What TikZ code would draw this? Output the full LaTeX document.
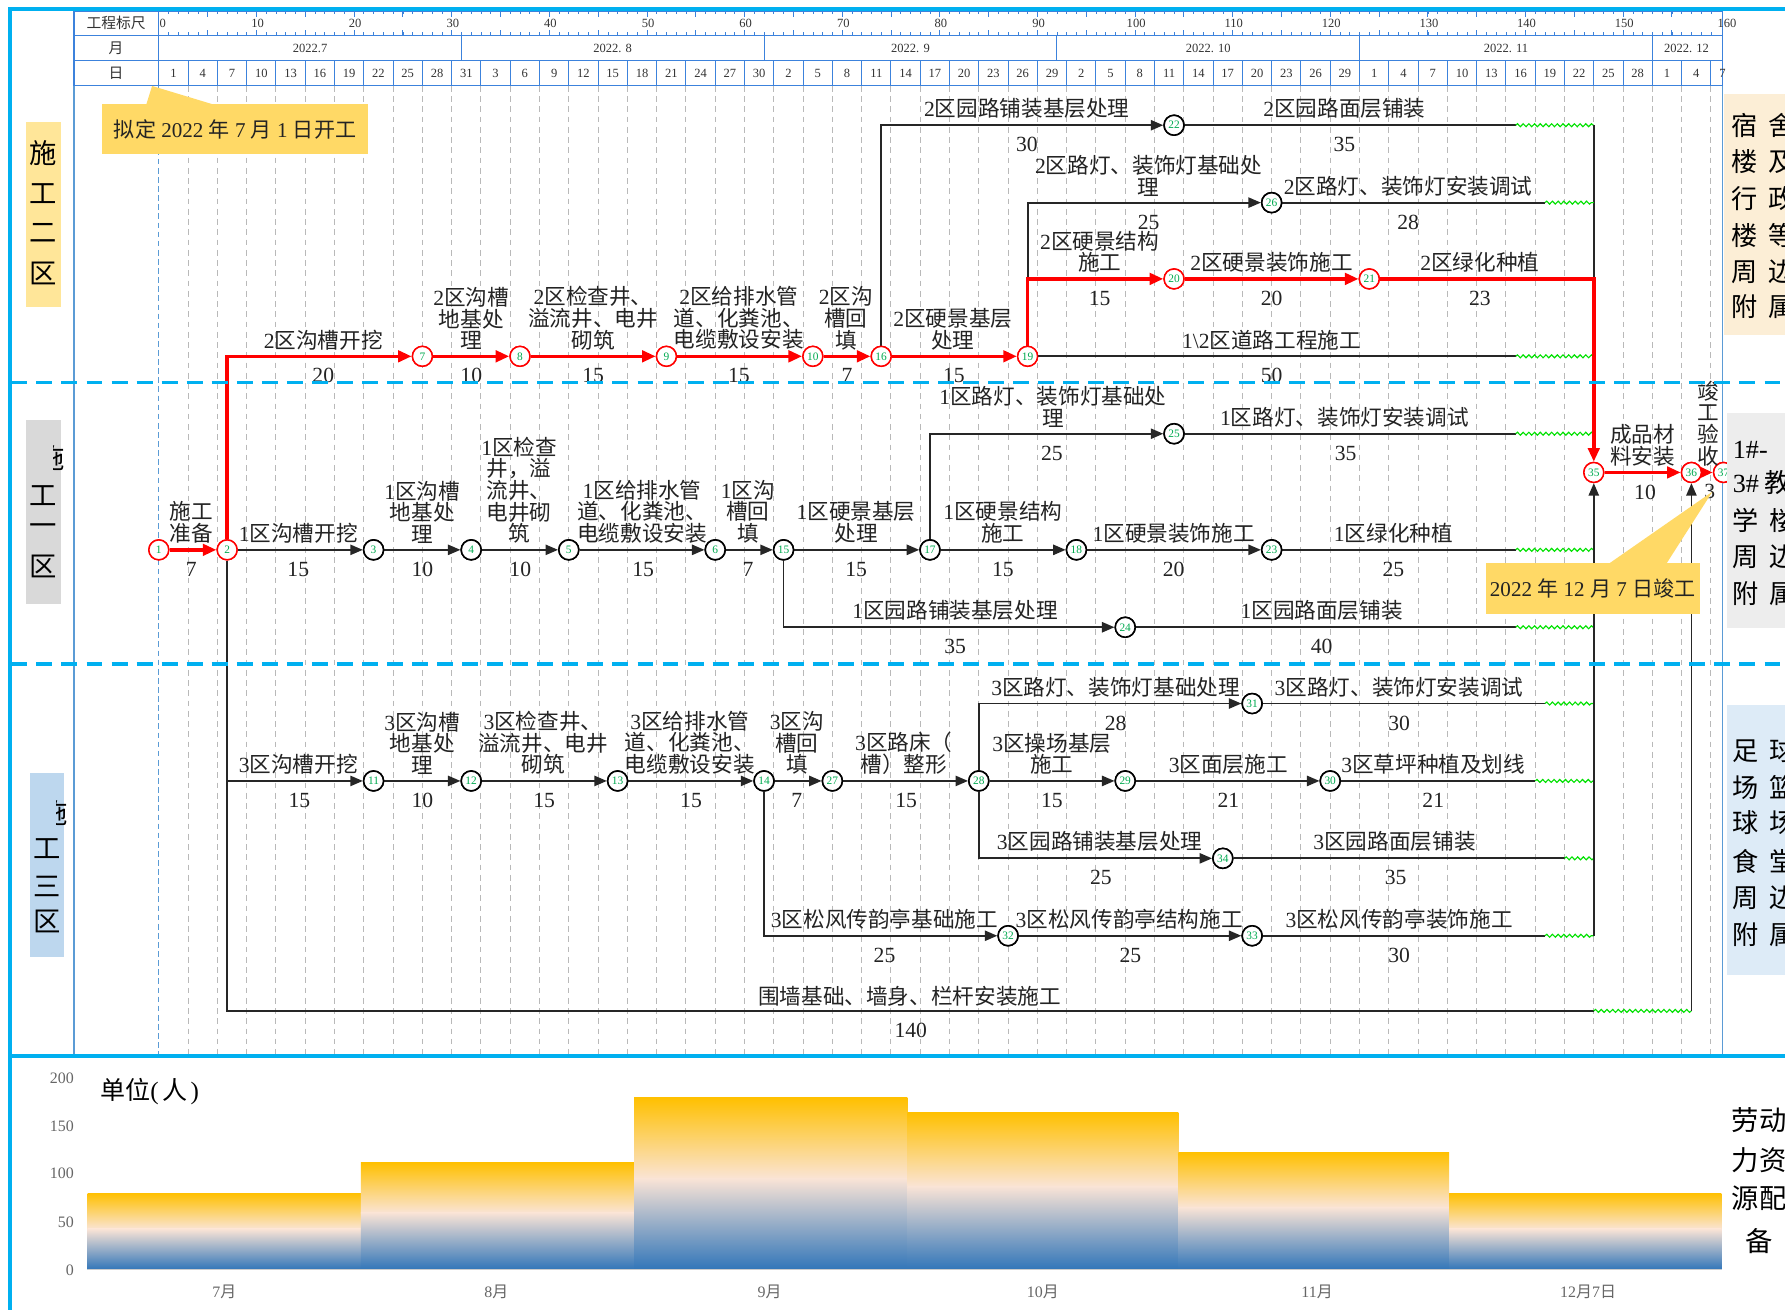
\documentclass[tikz,border=0pt]{standalone}
\usepackage{fontspec}
\setmainfont{Liberation Serif}
\newfontfamily\cjkf{Noto Sans CJK SC}
\usetikzlibrary{arrows.meta,decorations.pathmorphing}
\XeTeXinterchartokenstate=1
\newXeTeXintercharclass\cjkcls
\makeatletter
\count@="3000 \loop\ifnum\count@<"3040 \XeTeXcharclass\count@=\cjkcls\advance\count@\@ne\repeat
\count@="4E00 \loop\ifnum\count@<"A000 \XeTeXcharclass\count@=\cjkcls\advance\count@\@ne\repeat
\count@="FF00 \loop\ifnum\count@<"FFF0 \XeTeXcharclass\count@=\cjkcls\advance\count@\@ne\repeat
\makeatother
\XeTeXinterchartoks 0 \cjkcls = {\begingroup\cjkf}
\XeTeXinterchartoks 4095 \cjkcls = {\begingroup\cjkf}
\XeTeXinterchartoks \cjkcls 0 = {\endgroup}
\XeTeXinterchartoks \cjkcls 4095 = {\endgroup}

\definecolor{framec}{RGB}{0,176,240}
\definecolor{lblue}{RGB}{91,155,213}
\definecolor{hblue}{RGB}{60,130,220}
\definecolor{gridc}{RGB}{185,185,185}
\definecolor{critc}{RGB}{255,0,0}
\definecolor{numg}{RGB}{0,170,80}
\definecolor{wavec}{RGB}{0,225,0}
\definecolor{callc}{RGB}{255,217,102}
\definecolor{txtc}{RGB}{35,35,35}
\definecolor{barY}{RGB}{255,192,0}
\definecolor{barM}{RGB}{250,228,214}
\definecolor{barB}{RGB}{50,118,185}
\definecolor{boxYL}{RGB}{255,230,153}
\definecolor{boxGL}{RGB}{217,217,217}
\definecolor{boxBL}{RGB}{189,215,238}
\definecolor{boxYR}{RGB}{252,238,214}
\definecolor{boxGR}{RGB}{237,237,237}
\definecolor{boxBR}{RGB}{221,235,247}

\newcommand\dayx[1]{139.5+8.575*#1}
\newcounter{lc}
\newcommand\actlab[3]{\stepcounter{lc}\node[lab] (lab\thelc) at (#1,#2-5.5) {#3};}
\newcommand\actdur[3]{\stepcounter{lc}\node[dur] (dur\thelc) at (#1,#2+10.5) {#3};}
\newcommand\labbar[3]{%
  \shade[top color=barY,bottom color=barM] (#1,#3) rectangle (#2,{#3+0.47*(1115-#3)+0.5});
  \shade[top color=barM,bottom color=barB] (#1,{#3+0.47*(1115-#3)}) rectangle (#2,1115);}

\tikzset{
  ev/.style={circle,draw=black,line width=1.4pt,fill=white,minimum size=17.5pt,inner sep=0pt,font=\fontsize{10}{10}\selectfont,text=numg},
  evc/.style={ev,draw=critc,line width=1.3pt},
  act/.style={draw=black!85,line width=1.6pt},
  acta/.style={act,-{Triangle[length=11pt,width=9pt]}},
  cpl/.style={draw=critc,line width=3pt},
  cpa/.style={cpl,-{Triangle[length=12pt,width=10pt]}},
  wavy/.style={draw=wavec,line width=1pt,decorate,decoration={snake,amplitude=1.3pt,segment length=5pt}},
  lab/.style={font=\fontsize{19}{19}\selectfont,text=txtc,align=center,inner sep=0pt,anchor=south},
  dur/.style={font=\fontsize{19}{19}\selectfont,text=txtc,inner sep=0pt,anchor=north},
  gdash/.style={draw=gridc,line width=0.8pt,dash pattern=on 5pt off 4pt},
  hline/.style={draw=hblue,line width=0.9pt},
  hdr/.style={font=\fontsize{11}{12}\selectfont,text=black!80,inner sep=0pt},
  zonech/.style={font=\fontsize{24}{24}\selectfont,text=black,inner sep=0pt},
  sidech/.style={font=\fontsize{23}{23}\selectfont,text=black,inner sep=0pt,anchor=west},
  axl/.style={font=\fontsize{14}{14}\selectfont,text=black!60,inner sep=0pt},
  sep/.style={draw=framec,line width=3.5pt,dash pattern=on 14pt off 8pt},
}

\begin{document}
\begin{tikzpicture}[x=1pt,y=-1pt]
\useasboundingbox (0,0) rectangle (1568,1150);
\fill[white] (0,0) rectangle (1568,1150);

% ---------------- grid
\foreach \k in {1,...,53} \draw[gdash] ({139.5+25.725*\k},75.5) -- ({139.5+25.725*\k},928);
\draw[lblue,line width=0.9pt,dash pattern=on 5pt off 3pt] (139.5,75.5) -- (139.5,928);
\draw[lblue,line width=0.9pt] (65,10) -- (65,928);
\draw[lblue,line width=0.9pt] (1513,10) -- (1513,928);

% ---------------- header
\draw[hline] (65,10) rectangle (1513,75.5);
\draw[hline] (65,31) -- (1513,31) (65,53.5) -- (1513,53.5) (139.5,10) -- (139.5,75.5);
\foreach \d in {31,62,92,123,153} \draw[hline] ({\dayx{\d}},31) -- ({\dayx{\d}},53.5);
\foreach \k in {1,...,53} \draw[hline] ({139.5+25.725*\k},53.5) -- ({139.5+25.725*\k},75.5);
\foreach \d in {1,...,159} \draw[hblue,line width=0.6pt] ({\dayx{\d}},10) -- ++(0,2.5) ({\dayx{\d}},31) -- ++(0,-2.5);
\foreach \d in {5,10,...,155} \draw[hblue,line width=0.7pt] ({\dayx{\d}},10) -- ++(0,4.5) ({\dayx{\d}},31) -- ++(0,-4.5);
\node[font=\fontsize{13}{13}\selectfont,inner sep=0pt,text=black!80] (h1) at (102,20.5) {工程标尺};
\node[font=\fontsize{13}{13}\selectfont,inner sep=0pt,text=black!80] (h2) at (102,42.5) {月};
\node[font=\fontsize{13}{13}\selectfont,inner sep=0pt,text=black!80] (h3) at (102,64.75) {日};
\node[hdr] (r0) at (143,20.5) {0};
\foreach \d in {10,20,...,150} \node[hdr] (r\d) at ({\dayx{\d}+1},20.5) {\d};
\node[hdr] (r160) at (1517,20.5) {160};
\node[hdr] (m7) at (272.4,42.5) {2022.7};
\node[hdr] (m8) at (538.2,42.5) {2022. 8};
\node[hdr] (m9) at (799.8,42.5) {2022. 9};
\node[hdr] (m10) at (1061.3,42.5) {2022. 10};
\node[hdr] (m11) at (1322.9,42.5) {2022. 11};
\node[hdr] (m12) at (1481.5,42.5) {2022. 12};
\foreach \t [count=\i from 0] in {1,4,7,10,13,16,19,22,25,28,31,3,6,9,12,15,18,21,24,27,30,2,5,8,11,14,17,20,23,26,29,2,5,8,11,14,17,20,23,26,29,1,4,7,10,13,16,19,22,25,28,1,4}
  \node[hdr] (dd\i) at ({139.5+25.725*\i+12.86},64.75) {\t};
\node[hdr] (ddlast) at (1513,64.75) {7};

% ---------------- events
\node[evc] (n1) at ({\dayx{0}},483) {1};
\node[evc] (n2) at ({\dayx{7}},483) {2};
\node[ev] (n3) at ({\dayx{22}},483) {3};
\node[ev] (n4) at ({\dayx{32}},483) {4};
\node[ev] (n5) at ({\dayx{42}},483) {5};
\node[ev] (n6) at ({\dayx{57}},483) {6};
\node[ev] (n15) at ({\dayx{64}},483) {15};
\node[ev] (n17) at ({\dayx{79}},483) {17};
\node[ev] (n18) at ({\dayx{94}},483) {18};
\node[ev] (n23) at ({\dayx{114}},483) {23};
\node[ev] (n25) at ({\dayx{104}},381) {25};
\node[ev] (n24) at ({\dayx{99}},551) {24};
\node[evc] (n7) at ({\dayx{27}},313) {7};
\node[evc] (n8) at ({\dayx{37}},313) {8};
\node[evc] (n9) at ({\dayx{52}},313) {9};
\node[evc] (n10) at ({\dayx{67}},313) {10};
\node[evc] (n16) at ({\dayx{74}},313) {16};
\node[evc] (n19) at ({\dayx{89}},313) {19};
\node[evc] (n20) at ({\dayx{104}},245) {20};
\node[evc] (n21) at ({\dayx{124}},245) {21};
\node[ev] (n22) at ({\dayx{104}},110) {22};
\node[ev] (n26) at ({\dayx{114}},178) {26};
\node[evc] (n35) at ({\dayx{147}},415) {35};
\node[evc] (n36) at ({\dayx{157}},415) {36};
\node[evc] (n37) at (1514,415) {37};
\node[ev] (n11) at ({\dayx{22}},686) {11};
\node[ev] (n12) at ({\dayx{32}},686) {12};
\node[ev] (n13) at ({\dayx{47}},686) {13};
\node[ev] (n14) at ({\dayx{62}},686) {14};
\node[ev] (n27) at ({\dayx{69}},686) {27};
\node[ev] (n28) at ({\dayx{84}},686) {28};
\node[ev] (n29) at ({\dayx{99}},686) {29};
\node[ev] (n30) at ({\dayx{120}},686) {30};
\node[ev] (n31) at ({\dayx{112}},618) {31};
\node[ev] (n34) at ({\dayx{109}},754) {34};
\node[ev] (n32) at ({\dayx{87}},822) {32};
\node[ev] (n33) at ({\dayx{112}},822) {33};

% free-float end points
\coordinate (w22) at ({\dayx{139}},110);  \coordinate (k22) at (n35 |- n22);
\coordinate (k21) at (n35 |- n21);
\coordinate (w26) at ({\dayx{142}},178);  \coordinate (k26) at (n35 |- n26);
\coordinate (w19) at ({\dayx{139}},313);  \coordinate (k19) at (n35 |- n19);
\coordinate (w25) at ({\dayx{139}},381);  \coordinate (k25) at (n35 |- n25);
\coordinate (w23) at ({\dayx{139}},483);  \coordinate (k23) at (n35 |- n23);
\coordinate (w24) at ({\dayx{139}},551);  \coordinate (k24) at (n35 |- n24);
\coordinate (w31) at ({\dayx{142}},618);  \coordinate (k31) at (n35 |- n31);
\coordinate (w30) at ({\dayx{141}},686);  \coordinate (k30) at (n35 |- n30);
\coordinate (w34) at ({\dayx{144}},754);  \coordinate (k34) at (n35 |- n34);
\coordinate (w33) at ({\dayx{142}},822);  \coordinate (k33) at (n35 |- n33);
\coordinate (w2) at ({\dayx{147}},888);   \coordinate (k2) at (n36 |- w2);

% ---------------- black activities
\draw[acta] (n2) -- (n3);
\draw[acta] (n3) -- (n4);
\draw[acta] (n4) -- (n5);
\draw[acta] (n5) -- (n6);
\draw[acta] (n6) -- (n15);
\draw[acta] (n15) -- (n17);
\draw[acta] (n17) -- (n18);
\draw[acta] (n18) -- (n23);
\draw[act] (n23) -- (w23); \draw[wavy] (w23) -- (k23);
\draw[acta] (n17.north) |- (n25);
\draw[act] (n25) -- (w25); \draw[wavy] (w25) -- (k25);
\draw[acta] (n15.south) |- (n24);
\draw[act] (n24) -- (w24); \draw[wavy] (w24) -- (k24);
\draw[acta] (n16.north) |- (n22);
\draw[act] (n22) -- (w22); \draw[wavy] (w22) -- (k22);
\draw[act] (k22) -- (k21);
\draw[acta] (n19.north) |- (n26);
\draw[act] (n26) -- (w26); \draw[wavy] (w26) -- (k26);
\draw[act] (n19) -- (w19); \draw[wavy] (w19) -- (k19);
\draw[act] (n2.south) |- (w2); \draw[wavy] (w2) -- (k2);
\draw[acta] (k2) -- (n36);
\draw[acta] (n2.south |- n11) -- (n11);
\draw[acta] (n11) -- (n12);
\draw[acta] (n12) -- (n13);
\draw[acta] (n13) -- (n14);
\draw[acta] (n14) -- (n27);
\draw[acta] (n27) -- (n28);
\draw[acta] (n28) -- (n29);
\draw[acta] (n29) -- (n30);
\draw[act] (n30) -- (w30); \draw[wavy] (w30) -- (k30);
\draw[acta] (n28.north) |- (n31);
\draw[act] (n31) -- (w31); \draw[wavy] (w31) -- (k31);
\draw[acta] (n28.south) |- (n34);
\draw[act] (n34) -- (w34); \draw[wavy] (w34) -- (k34);
\draw[acta] (n14.south) |- (n32);
\draw[acta] (n32) -- (n33);
\draw[act] (n33) -- (w33); \draw[wavy] (w33) -- (k33);
\draw[acta] (k33) -- (n35);

% ---------------- critical path
\draw[cpa] (n1) -- (n2);
\draw[cpa] (n2.north) |- (n7);
\draw[cpa] (n7) -- (n8);
\draw[cpa] (n8) -- (n9);
\draw[cpa] (n9) -- (n10);
\draw[cpa] (n10) -- (n16);
\draw[cpa] (n16) -- (n19);
\draw[cpa] (n19.north) |- (n20);
\draw[cpa] (n20) -- (n21);
\draw[cpa] (n21) -| (n35);
\draw[cpa] (n35) -- (n36);
\draw[cpa] (n36) -- (n37);

% redraw event circles on top
\foreach \n/\c in {1/evc,2/evc,3/ev,4/ev,5/ev,6/ev,15/ev,17/ev,18/ev,23/ev,25/ev,24/ev,7/evc,8/evc,9/evc,10/evc,16/evc,19/evc,20/evc,21/evc,22/ev,26/ev,35/evc,36/evc,37/evc,11/ev,12/ev,13/ev,14/ev,27/ev,28/ev,29/ev,30/ev,31/ev,34/ev,32/ev,33/ev}
  \node[\c] (t\n) at (n\n) {\n};

\draw[gray,line width=0.8pt] (n37.north east) -- (1531,401);
\filldraw[fill={rgb,255:red,235;green,100;blue,100},draw=red!60!black,line width=0.5pt] (1529,404) -- (1535,396) -- (1547,398) -- (1541,406) -- cycle;

% ---------------- labels zone 2
\actlab{284}{313}{2区沟槽开挖} \actdur{284}{313}{20}
\actlab{414}{313}{2区沟槽\\地基处\\理} \actdur{414}{313}{10}
\actlab{521}{313}{2区检查井、\\溢流井、电井\\砌筑} \actdur{521}{313}{15}
\actlab{649}{313}{2区给排水管\\道、化粪池、\\电缆敷设安装} \actdur{649}{313}{15}
\actlab{743}{313}{2区沟\\槽回\\填} \actdur{744}{313}{7}
\actlab{837}{313}{2区硬景基层\\处理} \actdur{838}{313}{15}
\actlab{1117}{313}{1\textbackslash 2区道路工程施工} \actdur{1117}{313}{50}
\actlab{966}{245}{2区硬景结构\\施工} \actdur{966}{245}{15}
\actlab{1117}{245}{2区硬景装饰施工} \actdur{1117}{245}{20}
\actlab{1300}{245}{2区绿化种植} \actdur{1300}{245}{23}
\actlab{1009}{178}{2区路灯、装饰灯基础处\\理} \actdur{1009}{178}{25}
\actlab{1237}{178}{2区路灯、装饰灯安装调试} \actdur{1237}{178}{28}
\actlab{902}{110}{2区园路铺装基层处理} \actdur{902}{110}{30}
\actlab{1181}{110}{2区园路面层铺装} \actdur{1181}{110}{35}

% ---------------- labels zone 1
\actlab{168}{483}{施工\\准备} \actdur{168}{483}{7}
\actlab{262}{483}{1区沟槽开挖} \actdur{262}{483}{15}
\actlab{371}{483}{1区沟槽\\地基处\\理} \actdur{371}{483}{10}
\actlab{456}{483}{1区检查\\井，溢\\流井、\\电井砌\\筑} \actdur{457}{483}{10}
\actlab{564}{483}{1区给排水管\\道、化粪池、\\电缆敷设安装} \actdur{565}{483}{15}
\actlab{657}{483}{1区沟\\槽回\\填} \actdur{657}{483}{7}
\actlab{752}{483}{1区硬景基层\\处理} \actdur{752}{483}{15}
\actlab{881}{483}{1区硬景结构\\施工} \actdur{881}{483}{15}
\actlab{1031}{483}{1区硬景装饰施工} \actdur{1031}{483}{20}
\actlab{1224}{483}{1区绿化种植} \actdur{1224}{483}{25}
\actlab{925}{381}{1区路灯、装饰灯基础处\\理} \actdur{924}{381}{25}
\actlab{1181}{381}{1区路灯、装饰灯安装调试} \actdur{1182}{381}{35}
\actlab{839}{551}{1区园路铺装基层处理} \actdur{839}{551}{35}
\actlab{1161}{551}{1区园路面层铺装} \actdur{1161}{551}{40}
\actlab{1443}{415}{成品材\\料安装} \actdur{1445}{415}{10}
\actlab{1501}{415}{竣\\工\\验\\收} \actdur{1502}{415}{3}

% ---------------- labels zone 3
\actlab{262}{686}{3区沟槽开挖} \actdur{263}{686}{15}
\actlab{371}{686}{3区沟槽\\地基处\\理} \actdur{371}{686}{10}
\actlab{477}{686}{3区检查井、\\溢流井、电井\\砌筑} \actdur{478}{686}{15}
\actlab{606}{686}{3区给排水管\\道、化粪池、\\电缆敷设安装} \actdur{607}{686}{15}
\actlab{700}{686}{3区沟\\槽回\\填} \actdur{700}{686}{7}
\actlab{794}{686}{3区路床（\\槽）整形} \actdur{796}{686}{15}
\actlab{924}{686}{3区操场基层\\施工} \actdur{924}{686}{15}
\actlab{1079}{686}{3区面层施工} \actdur{1079}{686}{21}
\actlab{1259}{686}{3区草坪种植及划线} \actdur{1259}{686}{21}
\actlab{980}{618}{3区路灯、装饰灯基础处理} \actdur{980}{618}{28}
\actlab{1229}{618}{3区路灯、装饰灯安装调试} \actdur{1229}{618}{30}
\actlab{966}{754}{3区园路铺装基层处理} \actdur{967}{754}{25}
\actlab{1225}{754}{3区园路面层铺装} \actdur{1226}{754}{35}
\actlab{777}{822}{3区松风传韵亭基础施工} \actdur{777}{822}{25}
\actlab{992}{822}{3区松风传韵亭结构施工} \actdur{993}{822}{25}
\actlab{1229}{822}{3区松风传韵亭装饰施工} \actdur{1229}{822}{30}
\actlab{799}{890}{围墙基础、墙身、栏杆安装施工} \actdur{800}{888}{140}

% ---------------- zone separators
\draw[sep] (10,336) -- (1568,336);
\draw[sep] (10,583) -- (1568,583);

% ---------------- callouts
\fill[callc] (90,91) rectangle (323,135.5);
\fill[callc] (128.6,91.5) -- (133.6,75.5) -- (186.5,91.5) -- cycle;
\node[font=\fontsize{18.5}{19}\selectfont,text=txtc,inner sep=0pt] (cstart) at (206.5,113.5) {拟定 2022 年 7 月 1 日开工};
\fill[callc] (1305,494.3) rectangle (1493.2,539.6);
\fill[callc] (1413.5,495) -- (1504.2,431.9) -- (1463.9,495) -- cycle;
\node[font=\fontsize{18.5}{19}\selectfont,text=txtc,inner sep=0pt] (cend) at (1399,517) {2022 年 12 月 7 日竣工};

% ---------------- left zone boxes
\fill[boxYL] (22.7,107.5) rectangle (53.4,269.6);
\node[zonech] (zl2a) at (38,134.6) {施};
\node[zonech] (zl2b) at (38,169.8) {工};
\node[zonech] (zl2c) at (38,204.8) {二};
\node[zonech] (zl2d) at (38,240) {区};
\fill[boxGL] (22.7,369) rectangle (54,530.6);
\begin{scope}
\clip (47,390) rectangle (57,414);
\node[zonech] (zl1a) at (45,402) {施};
\end{scope}
\node[zonech] (zl1b) at (38.3,435) {工};
\node[zonech] (zl1c) at (38.3,465.6) {一};
\node[zonech] (zl1d) at (38.3,497.8) {区};
\fill[boxBL] (26.2,679) rectangle (56.5,841);
\begin{scope}
\clip (50,702) rectangle (60,726);
\node[zonech] (zl3a) at (48,714) {施};
\end{scope}
\node[zonech] (zl3b) at (41.3,745) {工};
\node[zonech] (zl3c) at (41.3,779) {三};
\node[zonech] (zl3d) at (41.3,809.6) {区};

% ---------------- right zone boxes
\fill[boxYR] (1514,83) rectangle (1570,294);
\node[sidech] (zr2a) at (1521,110) {宿\kern9pt 舍};
\node[sidech] (zr2b) at (1521,142) {楼\kern9pt 及};
\node[sidech] (zr2c) at (1521,174) {行\kern9pt 政};
\node[sidech] (zr2d) at (1521,206.5) {楼\kern9pt 等};
\node[sidech] (zr2e) at (1521,238.6) {周\kern9pt 边};
\node[sidech] (zr2f) at (1521,269) {附\kern9pt 属};
\fill[boxGR] (1517,363) rectangle (1570,552);
\node[sidech] (zr1a) at (1522,395) {1\#-};
\node[sidech] (zr1b) at (1522,424) {3\#\kern5pt 教};
\node[sidech] (zr1c) at (1522,457) {学\kern9pt 楼};
\node[sidech] (zr1d) at (1522,489) {周\kern9pt 边};
\node[sidech] (zr1e) at (1522,521) {附\kern9pt 属};
\fill[boxBR] (1517,619) rectangle (1570,856.5);
\node[sidech] (zr3a) at (1522,659) {足\kern9pt 球};
\node[sidech] (zr3b) at (1522,692) {场\kern9pt 篮};
\node[sidech] (zr3c) at (1522,723) {球\kern9pt 场};
\node[sidech] (zr3d) at (1522,757) {食\kern9pt 堂};
\node[sidech] (zr3e) at (1522,789) {周\kern9pt 边};
\node[sidech] (zr3f) at (1522,821) {附\kern9pt 属};

% ---------------- labour chart
\labbar{77}{317}{1048}
\labbar{317}{557}{1021}
\labbar{557}{797}{964}
\labbar{797}{1035}{977}
\labbar{1035}{1273}{1012}
\labbar{1273}{1512}{1048}
\draw[gray!40,line width=0.8pt] (77,1115) -- (1512,1115);
\node[axl,anchor=east] (y200) at (65,947) {200};
\node[axl,anchor=east] (y150) at (65,989) {150};
\node[axl,anchor=east] (y100) at (65,1031) {100};
\node[axl,anchor=east] (y50) at (65,1073.5) {50};
\node[axl,anchor=east] (y0) at (65,1115.5) {0};
\node[axl] (x7) at (197,1135) {7月};
\node[axl] (x8) at (436,1135) {8月};
\node[axl] (x9) at (676,1135) {9月};
\node[axl] (x10) at (916,1135) {10月};
\node[axl] (x11) at (1157,1135) {11月};
\node[axl] (x12) at (1395,1135) {12月7日};
\node[font=\fontsize{22}{22}\selectfont,inner sep=0pt,anchor=west] (unit) at (88,959) {单位(\kern3pt 人\kern3pt)};
\node[font=\fontsize{24}{24}\selectfont,inner sep=0pt,anchor=west] (lr1) at (1521,984) {劳动};
\node[font=\fontsize{24}{24}\selectfont,inner sep=0pt,anchor=west] (lr2) at (1521,1019) {力资};
\node[font=\fontsize{24}{24}\selectfont,inner sep=0pt,anchor=west] (lr3) at (1521,1053) {源配};
\node[font=\fontsize{24}{24}\selectfont,inner sep=0pt] (lr4) at (1545,1090) {备};

% ---------------- frame
\draw[framec,line width=3.5pt] (9,1152) -- (9,8) -- (1570,8);
\draw[framec,line width=3.5pt] (9,928) -- (1570,928);
\end{tikzpicture}
\end{document}
